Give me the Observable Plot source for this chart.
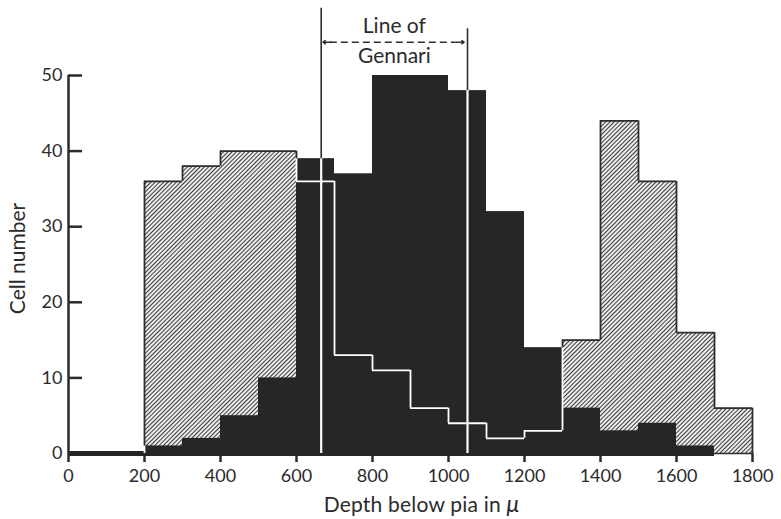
<!DOCTYPE html>
<html><head><meta charset="utf-8">
<script src="https://cdn.jsdelivr.net/npm/d3@7"></script>
<script src="https://cdn.jsdelivr.net/npm/@observablehq/plot@0.6"></script>
<style>body{margin:0;background:#fff;}</style>
</head><body><div id="chart"></div>
<script>
// ---- data ----
const binStarts = [0,100,200,300,400,500,600,700,800,900,1000,1100,1200,1300,1400,1500,1600,1700];
const binWidth = 100;
const hatchedCounts = [0,0,36,38,40,40,36,13,11,6,4,2,3,15,44,36,16,6];
const blackCounts   = [0,0,1,2,5,10,39,37,50,50,48,32,14,6,3,4,1,0];
const gennari = [665, 1050];
const gennariTop = [58.9, 56.2];
const annotationTop = "Line of";
const annotationBottom = "Gennari";
const xTicks = [0,200,400,600,800,1000,1200,1400,1600,1800];
const yTicks = [0,10,20,30,40,50];
const xLabel = "Depth below pia in μ";
const yLabel = "Cell number";

const dark = "#2e2e2e";
const ink = "#2b2b2b";

const bins = binStarts.map((s, i) => ({x1: s, x2: s + binWidth, h: hatchedCounts[i], b: blackCounts[i]}));

// outline of hatched histogram: white where it lies inside black bars
const hSeg = bins.filter(d => d.h > 0).map(d => ({x1: d.x1, x2: d.x2, y: d.h, c: d.h < d.b ? "white" : dark}));
const vSeg = [];
for (let k = 0; k <= bins.length; k++) {
  const L = bins[k - 1] || {h: 0, b: 0}, R = bins[k] || {h: 0, b: 0};
  const x = k * binWidth;
  const lo = Math.min(L.h, R.h), hi = Math.max(L.h, R.h), bm = Math.max(L.b, R.b);
  if (hi <= lo) continue;
  if (bm > lo) vSeg.push({x, y1: lo, y2: Math.min(hi, bm), c: "white"});
  if (hi > bm) vSeg.push({x, y1: Math.max(lo, bm), y2: hi, c: dark});
}
const blackEnd = d3.max(bins.filter(d => d.b > 0), d => d.x2);
const gLines = gennari.map((x, i) => ({x, top: gennariTop[i], inner: bins[Math.floor(x / binWidth)].b}));
const arrowY = 54.4;
const midX = (gennari[0] + gennari[1]) / 2;

const chart = Plot.plot({
  width: 781, height: 519,
  marginLeft: 68, marginRight: 29, marginTop: 75, marginBottom: 66,
  x: {domain: [0, 1800]},
  y: {domain: [0, 50]},
  style: {fontFamily: "Lato, 'Open Sans', sans-serif", fontSize: "18px", color: ink, background: "white"},
  marks: [
    Plot.rect(bins.filter(d => d.h > 0), {x1: "x1", x2: "x2", y1: 0, y2: "h", fill: "url(#hatch)", inset: 0}),
    Plot.rect(bins.filter(d => d.b > 0), {x1: "x1", x2: "x2", y1: 0, y2: "b", fill: "#262626", inset: 0}),
    Plot.ruleY([0], {x1: 0, x2: 1800, stroke: dark, strokeWidth: 1.5}),
    Plot.ruleY([0], {x1: 0, x2: blackEnd, stroke: "#262626", strokeWidth: 5}),
    Plot.ruleY(hSeg, {x1: "x1", x2: "x2", y: "y", stroke: "c", strokeWidth: 1.8}),
    Plot.ruleX(vSeg, {x: "x", y1: "y1", y2: "y2", stroke: "c", strokeWidth: 1.8}),
    // Gennari lines
    Plot.ruleX(gLines, {x: "x", y1: 0, y2: "top", stroke: dark, strokeWidth: 1.6}),
    Plot.ruleX(gLines, {x: "x", y1: 0, y2: "inner", stroke: "white", strokeWidth: 2.2}),
    // annotation
    Plot.ruleY([arrowY], {x1: gennari[0] + 24, x2: gennari[1] - 30, stroke: dark, strokeWidth: 1.5, strokeDasharray: "7,4"}),
    Plot.arrow([0], {x1: gennari[0] + 26, x2: gennari[0] + 5, y1: arrowY, y2: arrowY, stroke: dark, strokeWidth: 1.5, headLength: 10, headAngle: 70}),
    Plot.arrow([0], {x1: gennari[1] - 30, x2: gennari[1] - 9, y1: arrowY, y2: arrowY, stroke: dark, strokeWidth: 1.5, headLength: 10, headAngle: 70}),
    Plot.text([annotationTop], {x: midX, y: 56.5, text: d => d, fill: ink, fontSize: 21}),
    Plot.text([annotationBottom], {x: midX, y: 52.5, text: d => d, fill: ink, fontSize: 21}),
    // axes
    Plot.ruleX([0], {y1: 0, y2: 50, stroke: ink, strokeWidth: 2.5}),
    Plot.ruleY(yTicks.filter(t => t > 0), {y: d => d, x1: 0, x2: 37, stroke: ink, strokeWidth: 2.5}),
    Plot.axisY(yTicks, {tickSize: 0, tickPadding: 6, label: null, fontSize: 18, tickFormat: d => String(d)}),
    Plot.axisX(xTicks, {tickSize: 9, tickPadding: 7, strokeWidth: 2.5, label: null, fontSize: 18, tickFormat: d => String(d)}),
    Plot.text([yLabel], {frameAnchor: "left", textAnchor: "middle", lineAnchor: "middle", rotate: -90, dx: -50, dy: -6, fill: ink, fontSize: 21}),
    Plot.text([xLabel], {frameAnchor: "bottom", textAnchor: "middle", lineAnchor: "middle", dx: 11, dy: 52, fill: ink, fontSize: 21})
  ]
});

const svg = d3.select(chart);
const defs = svg.insert("defs", ":first-child");
const pat = defs.append("pattern").attr("id", "hatch").attr("patternUnits", "userSpaceOnUse")
  .attr("width", 3).attr("height", 6).attr("patternTransform", "rotate(45)");
pat.append("rect").attr("width", 3).attr("height", 6).attr("fill", "#fbfbfb");
pat.append("line").attr("x1", 1.5).attr("y1", 0).attr("x2", 1.5).attr("y2", 6).attr("stroke", "#3a3a3a").attr("stroke-width", 1.15);

svg.selectAll("text").each(function() {
  if (this.textContent === xLabel) {
    const t = d3.select(this);
    t.attr("letter-spacing", "0.2px");
    t.text(xLabel.slice(0, -1));
    t.append("tspan").attr("font-style", "italic").attr("font-size", "23px").text("μ");
  }
});
document.getElementById("chart").appendChild(chart);
</script>
</body></html>
